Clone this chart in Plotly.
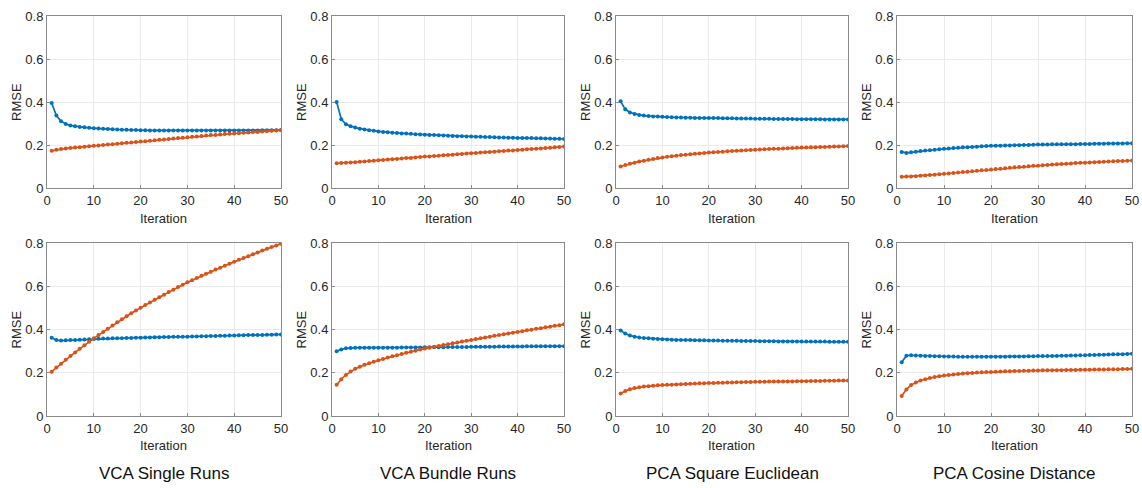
import plotly.graph_objects as go
from plotly.subplots import make_subplots

iterations = list(range(1, 51))
panel_titles = ["VCA Single Runs", "VCA Bundle Runs", "PCA Square Euclidean", "PCA Cosine Distance"]
x_ticks = [0, 10, 20, 30, 40, 50]
y_ticks = [0, 0.2, 0.4, 0.6, 0.8]
y_tick_labels = ["0", "0.2", "0.4", "0.6", "0.8"]
x_title = "Iteration"
y_title = "RMSE"

# --- Top row ---
vca_single_top_blue = [0.395, 0.337, 0.311, 0.298, 0.291, 0.287, 0.284, 0.282, 0.280, 0.278,
                       0.277, 0.275, 0.274, 0.273, 0.272, 0.271, 0.271, 0.270, 0.270, 0.269,
                       0.269, 0.268, 0.268, 0.268, 0.268, 0.267, 0.267, 0.267, 0.267, 0.267,
                       0.267, 0.267, 0.267, 0.267, 0.267, 0.267, 0.267, 0.267, 0.267, 0.268,
                       0.268, 0.268, 0.268, 0.268, 0.268, 0.269, 0.269, 0.269, 0.269, 0.270]
vca_single_top_orange = [0.173, 0.178, 0.181, 0.184, 0.186, 0.188, 0.190, 0.192, 0.194, 0.196,
                         0.198, 0.200, 0.202, 0.204, 0.206, 0.208, 0.210, 0.212, 0.214, 0.216,
                         0.218, 0.220, 0.222, 0.224, 0.226, 0.228, 0.230, 0.232, 0.234, 0.236,
                         0.238, 0.240, 0.242, 0.244, 0.246, 0.247, 0.249, 0.251, 0.252, 0.254,
                         0.255, 0.257, 0.258, 0.260, 0.261, 0.263, 0.264, 0.266, 0.267, 0.269]

vca_bundle_top_blue = [0.400, 0.320, 0.296, 0.287, 0.281, 0.276, 0.272, 0.269, 0.266, 0.263,
                       0.261, 0.259, 0.257, 0.256, 0.254, 0.253, 0.252, 0.250, 0.249, 0.248,
                       0.247, 0.246, 0.245, 0.244, 0.243, 0.242, 0.241, 0.241, 0.240, 0.239,
                       0.238, 0.238, 0.237, 0.237, 0.236, 0.235, 0.235, 0.234, 0.234, 0.233,
                       0.233, 0.232, 0.232, 0.231, 0.231, 0.230, 0.230, 0.229, 0.229, 0.228]
vca_bundle_top_orange = [0.115, 0.116, 0.117, 0.119, 0.120, 0.122, 0.123, 0.125, 0.127, 0.129,
                         0.130, 0.132, 0.134, 0.135, 0.137, 0.139, 0.140, 0.142, 0.144, 0.146,
                         0.147, 0.149, 0.150, 0.152, 0.154, 0.155, 0.157, 0.158, 0.160, 0.162,
                         0.163, 0.165, 0.166, 0.168, 0.169, 0.171, 0.172, 0.174, 0.175, 0.177,
                         0.178, 0.180, 0.181, 0.183, 0.184, 0.186, 0.187, 0.189, 0.191, 0.193]

pca_sq_top_blue = [0.403, 0.366, 0.351, 0.344, 0.340, 0.337, 0.335, 0.333, 0.332, 0.331,
                   0.330, 0.329, 0.328, 0.328, 0.327, 0.327, 0.326, 0.326, 0.326, 0.325,
                   0.325, 0.325, 0.324, 0.324, 0.324, 0.323, 0.323, 0.323, 0.323, 0.322,
                   0.322, 0.322, 0.322, 0.321, 0.321, 0.321, 0.321, 0.321, 0.320, 0.320,
                   0.320, 0.320, 0.320, 0.320, 0.319, 0.319, 0.319, 0.319, 0.319, 0.319]
pca_sq_top_orange = [0.100, 0.107, 0.113, 0.118, 0.123, 0.127, 0.131, 0.135, 0.139, 0.142,
                     0.145, 0.148, 0.150, 0.153, 0.155, 0.157, 0.159, 0.161, 0.163, 0.165,
                     0.166, 0.168, 0.169, 0.171, 0.172, 0.173, 0.175, 0.176, 0.177, 0.178,
                     0.179, 0.180, 0.181, 0.182, 0.183, 0.184, 0.185, 0.186, 0.187, 0.188,
                     0.188, 0.189, 0.190, 0.191, 0.191, 0.192, 0.193, 0.193, 0.194, 0.195]

pca_cos_top_blue = [0.168, 0.163, 0.166, 0.169, 0.172, 0.174, 0.176, 0.178, 0.180, 0.182,
                    0.184, 0.186, 0.187, 0.189, 0.190, 0.191, 0.192, 0.194, 0.195, 0.196,
                    0.197, 0.197, 0.198, 0.198, 0.199, 0.199, 0.200, 0.200, 0.201, 0.202,
                    0.202, 0.202, 0.203, 0.203, 0.203, 0.204, 0.204, 0.204, 0.205, 0.205,
                    0.205, 0.206, 0.206, 0.206, 0.207, 0.207, 0.207, 0.207, 0.208, 0.208]
pca_cos_top_orange = [0.052, 0.053, 0.054, 0.055, 0.057, 0.058, 0.060, 0.062, 0.064, 0.066,
                      0.068, 0.070, 0.072, 0.074, 0.076, 0.078, 0.080, 0.082, 0.084, 0.086,
                      0.088, 0.090, 0.092, 0.094, 0.096, 0.098, 0.099, 0.101, 0.103, 0.104,
                      0.106, 0.107, 0.109, 0.110, 0.112, 0.113, 0.114, 0.116, 0.117, 0.118,
                      0.119, 0.120, 0.121, 0.122, 0.123, 0.124, 0.125, 0.126, 0.127, 0.128]

# --- Bottom row ---
vca_single_bot_blue = [0.362, 0.351, 0.349, 0.350, 0.351, 0.352, 0.353, 0.354, 0.355, 0.356,
                       0.357, 0.358, 0.358, 0.359, 0.360, 0.360, 0.361, 0.361, 0.362, 0.362,
                       0.363, 0.363, 0.364, 0.364, 0.365, 0.365, 0.366, 0.366, 0.367, 0.367,
                       0.368, 0.368, 0.369, 0.369, 0.370, 0.370, 0.371, 0.371, 0.372, 0.372,
                       0.373, 0.373, 0.374, 0.374, 0.375, 0.375, 0.376, 0.376, 0.377, 0.377]
vca_single_bot_orange = [0.205, 0.224, 0.242, 0.260, 0.277, 0.294, 0.311, 0.327, 0.343, 0.359,
                         0.374, 0.389, 0.404, 0.419, 0.433, 0.447, 0.461, 0.475, 0.488, 0.501,
                         0.513, 0.525, 0.537, 0.549, 0.561, 0.573, 0.584, 0.596, 0.607, 0.618,
                         0.628, 0.638, 0.648, 0.658, 0.667, 0.677, 0.686, 0.695, 0.704, 0.713,
                         0.722, 0.731, 0.739, 0.748, 0.756, 0.765, 0.773, 0.781, 0.789, 0.797]

vca_bundle_bot_blue = [0.299, 0.308, 0.313, 0.315, 0.316, 0.316, 0.316, 0.316, 0.316, 0.316,
                       0.316, 0.316, 0.316, 0.316, 0.317, 0.317, 0.317, 0.317, 0.317, 0.318,
                       0.318, 0.318, 0.318, 0.318, 0.319, 0.319, 0.319, 0.319, 0.319, 0.320,
                       0.320, 0.320, 0.320, 0.320, 0.320, 0.321, 0.321, 0.321, 0.321, 0.321,
                       0.321, 0.322, 0.322, 0.322, 0.322, 0.322, 0.323, 0.323, 0.323, 0.323]
vca_bundle_bot_orange = [0.144, 0.170, 0.190, 0.206, 0.218, 0.228, 0.237, 0.244, 0.251, 0.258,
                         0.264, 0.270, 0.276, 0.281, 0.287, 0.292, 0.297, 0.302, 0.307, 0.312,
                         0.316, 0.320, 0.324, 0.328, 0.332, 0.336, 0.340, 0.344, 0.348, 0.352,
                         0.356, 0.360, 0.363, 0.367, 0.371, 0.374, 0.378, 0.382, 0.385, 0.389,
                         0.392, 0.396, 0.399, 0.403, 0.406, 0.410, 0.413, 0.417, 0.420, 0.424]

pca_sq_bot_blue = [0.395, 0.381, 0.372, 0.367, 0.363, 0.361, 0.359, 0.357, 0.356, 0.355,
                   0.354, 0.353, 0.352, 0.352, 0.351, 0.351, 0.350, 0.350, 0.350, 0.349,
                   0.349, 0.349, 0.348, 0.348, 0.348, 0.348, 0.347, 0.347, 0.347, 0.347,
                   0.346, 0.346, 0.346, 0.346, 0.345, 0.345, 0.345, 0.345, 0.345, 0.344,
                   0.344, 0.344, 0.344, 0.344, 0.344, 0.343, 0.343, 0.343, 0.343, 0.343]
pca_sq_bot_orange = [0.104, 0.116, 0.124, 0.129, 0.133, 0.136, 0.138, 0.140, 0.142, 0.143,
                     0.144, 0.145, 0.146, 0.147, 0.148, 0.149, 0.150, 0.151, 0.152, 0.153,
                     0.153, 0.154, 0.154, 0.155, 0.155, 0.156, 0.156, 0.157, 0.157, 0.158,
                     0.158, 0.158, 0.159, 0.159, 0.159, 0.160, 0.160, 0.160, 0.161, 0.161,
                     0.161, 0.162, 0.162, 0.162, 0.163, 0.163, 0.163, 0.164, 0.164, 0.164]

pca_cos_bot_blue = [0.249, 0.279, 0.281, 0.280, 0.279, 0.278, 0.277, 0.276, 0.276, 0.275,
                    0.275, 0.275, 0.274, 0.274, 0.274, 0.274, 0.274, 0.274, 0.274, 0.274,
                    0.274, 0.274, 0.274, 0.275, 0.275, 0.275, 0.275, 0.276, 0.276, 0.277,
                    0.277, 0.277, 0.278, 0.278, 0.279, 0.279, 0.280, 0.280, 0.281, 0.281,
                    0.282, 0.282, 0.283, 0.283, 0.284, 0.285, 0.285, 0.286, 0.287, 0.288]
pca_cos_bot_orange = [0.092, 0.123, 0.143, 0.155, 0.164, 0.170, 0.176, 0.180, 0.184, 0.187,
                      0.190, 0.192, 0.194, 0.196, 0.198, 0.199, 0.201, 0.202, 0.203, 0.204,
                      0.205, 0.206, 0.207, 0.207, 0.208, 0.208, 0.209, 0.209, 0.210, 0.210,
                      0.211, 0.211, 0.212, 0.212, 0.212, 0.213, 0.213, 0.213, 0.214, 0.214,
                      0.214, 0.215, 0.215, 0.215, 0.216, 0.216, 0.216, 0.217, 0.217, 0.218]

panels = [
    (1, 1, vca_single_top_blue, vca_single_top_orange),
    (1, 2, vca_bundle_top_blue, vca_bundle_top_orange),
    (1, 3, pca_sq_top_blue, pca_sq_top_orange),
    (1, 4, pca_cos_top_blue, pca_cos_top_orange),
    (2, 1, vca_single_bot_blue, vca_single_bot_orange),
    (2, 2, vca_bundle_bot_blue, vca_bundle_bot_orange),
    (2, 3, pca_sq_bot_blue, pca_sq_bot_orange),
    (2, 4, pca_cos_bot_blue, pca_cos_bot_orange),
]

BLUE = "#0072BD"
ORANGE = "#D95319"
W, H = 1142, 488

fig = make_subplots(rows=2, cols=4)

for r, c, blue, orange in panels:
    for ys, col in ((blue, BLUE), (orange, ORANGE)):
        fig.add_trace(go.Scatter(x=iterations, y=ys, mode="lines+markers",
                                 line=dict(color=col, width=1.7),
                                 marker=dict(color=col, size=4),
                                 showlegend=False, hoverinfo="x+y"),
                      row=r, col=c)

x_px = [(47, 281), (332, 564), (616, 848), (897, 1132)]
y_px = [(16, 188), (243, 416)]
x_title_y_px = [218, 445]

font_family = "Liberation Sans, Arial, sans-serif"
text_col = "#262626"
axis_font = dict(family=font_family, size=13, color=text_col)

for r in (1, 2):
    for c in range(1, 5):
        xd = [x_px[c - 1][0] / W, x_px[c - 1][1] / W]
        yd = [1 - y_px[r - 1][1] / H, 1 - y_px[r - 1][0] / H]
        fig.update_xaxes(domain=xd, range=[0, 50], tickvals=x_ticks, automargin=False,
                         showline=True, mirror=True, linecolor="#8a8a8a", linewidth=1,
                         showgrid=True, gridcolor="#ebebeb", gridwidth=1,
                         ticks="inside", ticklen=3, tickcolor="#8a8a8a",
                         zeroline=False, tickfont=axis_font,
                         row=r, col=c)
        fig.update_yaxes(domain=yd, range=[0, 0.8], tickvals=y_ticks, ticktext=y_tick_labels,
                         automargin=False,
                         showline=True, mirror=True, linecolor="#8a8a8a", linewidth=1,
                         showgrid=True, gridcolor="#ebebeb", gridwidth=1,
                         ticks="inside", ticklen=3, tickcolor="#8a8a8a",
                         zeroline=False, tickfont=axis_font,
                         row=r, col=c)
        # axis titles placed as annotations for exact positioning
        fig.add_annotation(text=x_title, x=(xd[0] + xd[1]) / 2, y=1 - x_title_y_px[r - 1] / H,
                           xref="paper", yref="paper", xanchor="center", yanchor="middle",
                           showarrow=False, font=axis_font)
        fig.add_annotation(text=y_title, x=(x_px[c - 1][0] - 31) / W, y=(yd[0] + yd[1]) / 2,
                           xref="paper", yref="paper", xanchor="center", yanchor="middle",
                           textangle=-90, showarrow=False, font=axis_font)

for i, t in enumerate(panel_titles):
    cx = (x_px[i][0] + x_px[i][1]) / 2 / W
    fig.add_annotation(text=t, x=cx, y=1 - 473 / H, xref="paper", yref="paper",
                       xanchor="center", yanchor="middle", showarrow=False,
                       font=dict(family=font_family, size=17, color="#111111"))

fig.update_layout(width=W, height=H, margin=dict(l=0, r=0, t=0, b=0, autoexpand=False),
                  plot_bgcolor="white", paper_bgcolor="white")

fig.write_html("out.html", config={"displayModeBar": False},
               post_script="document.body.style.margin='0';document.body.style.padding='0';"
                           "document.body.style.overflow='hidden';")
